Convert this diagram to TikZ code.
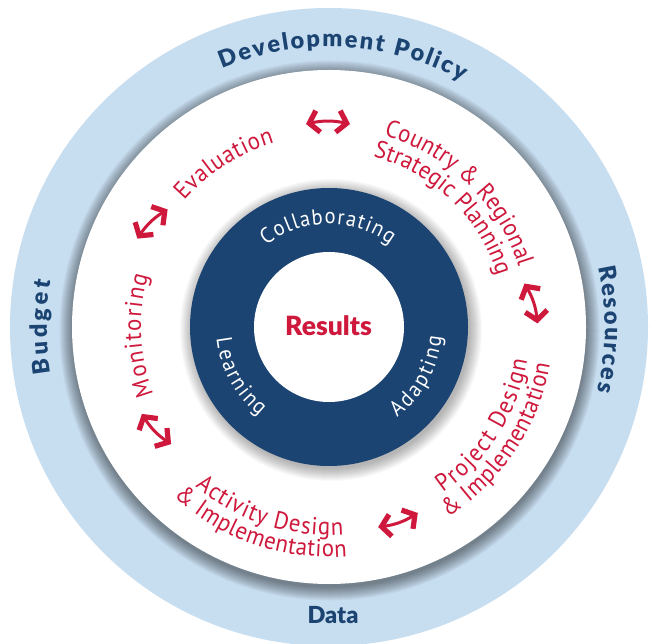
\documentclass[tikz,border=0pt]{standalone}
\usepackage{fontspec}
\setmainfont{Lato}
\newfontfamily\ptsans{PT Sans}[FakeStretch=0.93]
\newfontfamily\heavy{Lato Black}
\usetikzlibrary{decorations.text,calc,arrows.meta}
\definecolor{ringblue}{HTML}{C7DDF0}
\definecolor{navy}{HTML}{1B4472}
\definecolor{cred}{HTML}{CE183C}
\begin{document}
\begin{tikzpicture}[x=1pt,y=1pt,
  barb/.tip={Straight Barb[length=9pt,width=22pt,line width=5.2pt]},
  arr/.style={draw=cred,line width=3pt,barb-barb},
  outer/.style={decorate,decoration={text along path,text align={fit to path},text color=navy,text={|\heavy\fontsize{23.5}{23.5}\selectfont|#1}}},
  redt/.style={decorate,decoration={text along path,text align={fit to path},text color=cred,text={|\ptsans\fontsize{24.5}{24.5}\selectfont|#1}}},
  whitet/.style={decorate,decoration={text along path,text align={fit to path},text color=white,text={|\ptsans\fontsize{22}{22}\selectfont|#1}}}]
\useasboundingbox (0,0) rectangle (650,643);
\fill[white] (0,0) rectangle (650,643);
\coordinate (C) at (329,316);
\begin{scope}
\clip (0,0) rectangle (650,643);
\fill[ringblue] (C) circle[radius=319];
\end{scope}
% shadow on ring
\foreach \i in {0,...,13}
  \fill[black,opacity=0.034] ($(C)+(0.5,-3.5)$) circle[radius=257+\i];
\fill[white] (C) circle[radius=257];
% shadow of dark ring
\foreach \i in {0,...,12}
  \fill[black,opacity=0.025] ($(C)+(2,-3)$) circle[radius=139+\i];
\fill[navy] (C) circle[radius=139];
\fill[white] (C) circle[radius=75];
\node[text=cred,font=\heavy\fontsize{26.5}{26.5}\selectfont] (results) at (328.5,317) {Results};
% outer ring labels
\path[outer={Development Policy}] ($(C)+(112.5:280)$) arc[start angle=112.5,end angle=61.5,radius=280];
\path[outer={Budget}] ($(C)+(189.5:282)$) arc[start angle=189.5,end angle=170.5,radius=282];
\path[outer={Resources}] ($(C)+(12.5:276)$) arc[start angle=12.5,end angle=-13.5,radius=276];
\node[text=navy,font=\heavy\fontsize{23.5}{23.5}\selectfont] (data) at (333,28) {Data};
% red labels
\path[redt={Evaluation}] ($(C)+(139:192)$) arc[start angle=139,end angle=106.5,radius=192];
\path[redt={Country {\&} Regional}] ($(C)+(74:199)$) arc[start angle=74,end angle=17.5,radius=199];
\path[redt={Strategic Planning}] ($(C)+(75.5:176)$) arc[start angle=75.5,end angle=17,radius=176];
\path[redt={Monitoring}] ($(C)+(201:188)$) arc[start angle=201,end angle=164,radius=188];
\path[redt={Activity Design}] ($(C)+(230:208)$) arc[start angle=230,end angle=274,radius=208];
\path[redt={{\&} Implementation}] ($(C)+(227.5:230)$) arc[start angle=227.5,end angle=274.5,radius=230];
\path[redt={Project Design}] ($(C)+(304.5:201)$) arc[start angle=304.5,end angle=350.5,radius=201];
\path[redt={{\&} Implementation}] ($(C)+(302:224)$) arc[start angle=302,end angle=350.5,radius=224];
% inner ring labels
\path[whitet={Collaborating}] ($(C)+(127.5:103)$) arc[start angle=127.5,end angle=53.5,radius=103];
\path[whitet={Learning}] ($(C)+(186:113)$) arc[start angle=186,end angle=232,radius=113];
\path[whitet={Adapting}] ($(C)+(307:113)$) arc[start angle=307,end angle=355,radius=113];
% arrows
\coordinate (p1) at (328,519);
\coordinate (p2) at (152.5,419);
\coordinate (p3) at (531,339.5);
\coordinate (p4) at (156.5,214);
\coordinate (p5) at (398,123);
\coordinate (a1s) at ($(p1)+(0:22)$);   \coordinate (a1e) at ($(p1)+(180:22)$);
\coordinate (a2s) at ($(p2)+(44:21)$);  \coordinate (a2e) at ($(p2)+(224:21)$);
\coordinate (a3s) at ($(p3)+(288:21)$); \coordinate (a3e) at ($(p3)+(108:21)$);
\coordinate (a4s) at ($(p4)+(134:21)$); \coordinate (a4e) at ($(p4)+(314:21)$);
\coordinate (a5s) at ($(p5)+(199.5:21)$); \coordinate (a5e) at ($(p5)+(19.5:21)$);
\draw[arr] (a1s) to[bend right=12] (a1e);
\draw[arr] (a2s) to[bend right=12] (a2e);
\draw[arr] (a3s) to[bend right=12] (a3e);
\draw[arr] (a4s) to[bend right=12] (a4e);
\draw[arr] (a5s) to[bend right=12] (a5e);
\end{tikzpicture}
\end{document}
